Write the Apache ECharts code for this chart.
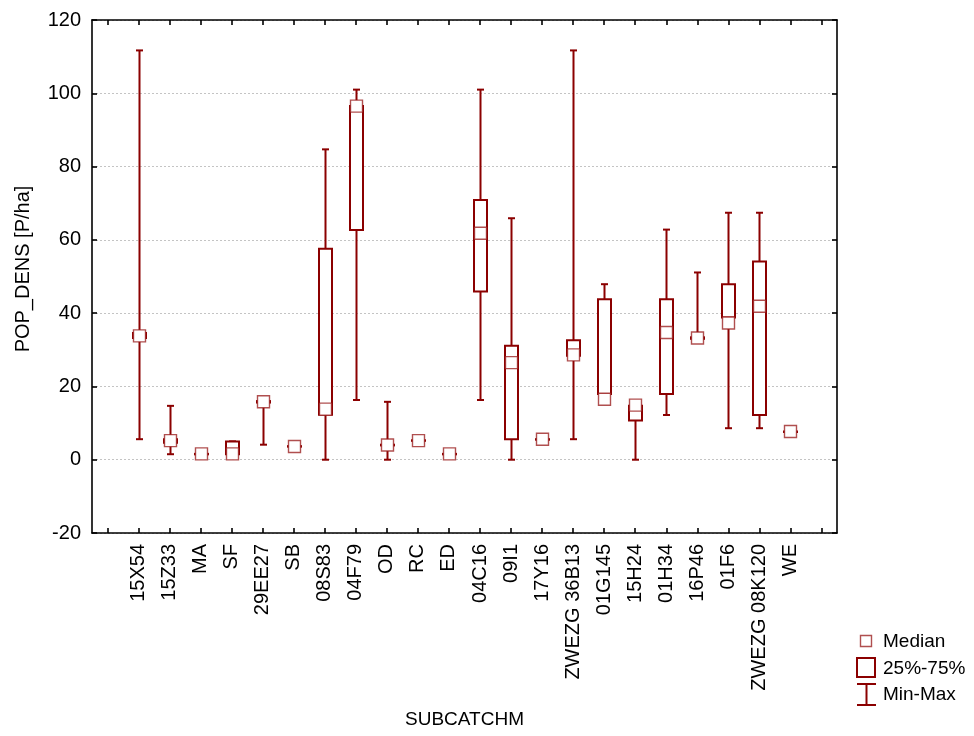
<!DOCTYPE html>
<html>
<head>
<meta charset="utf-8">
<title>POP_DENS by SUBCATCHM</title>
<script src="https://cdn.jsdelivr.net/npm/echarts@6/dist/echarts.min.js"></script>
<style>
  html, body { margin: 0; padding: 0; background: #ffffff; }
  #chart { width: 974px; height: 736px; }
</style>
</head>
<body>
<div id="chart"></div>
<script>
// Subcatchment names along the category axis
const subcatchments = ['15X54', '15Z33', 'MA', 'SF', '29EE27', 'SB', '08S83', '04F79', 'OD', 'RC', 'ED',
  '04C16', '09I1', '17Y16', 'ZWEZG 36B13', '01G145', '15H24', '01H34', '16P46', '01F6', 'ZWEZG 08K120', 'WE'];

// Population density summaries [P/ha]
const minValues    = [5.6, 1.5, 1.6, 1.5, 4.1, 3.6, 0.0, 16.3, 0.0, 5.2, 1.6, 16.3, 0.0, 5.6, 5.6, 16.5, 0.0, 12.2, 32.8, 8.6, 8.6, 7.7];
const q1Values     = [33.2, 4.6, 1.6, 1.5, 15.6, 3.6, 12.3, 62.7, 3.9, 5.2, 1.6, 45.9, 5.6, 5.6, 28.4, 17.9, 10.7, 17.9, 33.0, 38.8, 12.2, 7.7];
const medianValues = [33.8, 5.2, 1.6, 1.6, 15.8, 3.6, 13.8, 96.5, 4.0, 5.2, 1.6, 61.8, 26.5, 5.6, 28.6, 16.5, 14.9, 34.7, 33.2, 37.3, 41.9, 7.7];
const q3Values     = [34.6, 5.6, 1.6, 5.0, 16.0, 3.7, 57.6, 96.5, 4.1, 5.3, 1.6, 70.9, 31.1, 5.6, 32.6, 43.8, 14.7, 43.8, 33.4, 47.9, 54.1, 7.7];
const maxValues    = [111.7, 14.7, 1.6, 5.0, 16.0, 3.7, 84.7, 101.0, 15.8, 5.3, 1.6, 101.0, 65.9, 5.6, 111.7, 47.9, 14.9, 62.8, 51.1, 67.4, 67.4, 7.7];

// Value axis ticks
const yTicks = [-20, 0, 20, 40, 60, 80, 100, 120];

const FONT = '"Liberation Sans", Arial, sans-serif';
const DARK_RED = '#8b0000';
const MEDIAN_RED = 'rgba(150,20,20,0.75)';

// Empty slot at each end of the category axis
const axisCategories = [''].concat(subcatchments, ['']);

const boxData = subcatchments.map((name, i) => [
  i + 1, minValues[i], q1Values[i], medianValues[i], q3Values[i], maxValues[i]
]);

function renderBox(params, api) {
  const idx = api.value(0);
  const x = Math.round(api.coord([idx, 0])[0]) + 0.5;
  const yOf = v => api.coord([idx, v])[1];
  const yMin = yOf(api.value(1));
  const yQ1 = yOf(api.value(2));
  const yMed = yOf(api.value(3));
  const yQ3 = yOf(api.value(4));
  const yMax = yOf(api.value(5));
  const boxW = 13, capW = 7, sq = 12;
  const lineStyle = { stroke: DARK_RED, lineWidth: 2, fill: null };
  const children = [];

  // whiskers
  if (yMin - yQ1 > 0.5) {
    children.push({ type: 'line', shape: { x1: x, y1: yQ1, x2: x, y2: yMin }, style: lineStyle });
  }
  if (yQ3 - yMax > 0.5) {
    children.push({ type: 'line', shape: { x1: x, y1: yMax, x2: x, y2: yQ3 }, style: lineStyle });
  }
  // caps
  children.push({ type: 'line', shape: { x1: x - capW / 2, y1: yMin, x2: x + capW / 2, y2: yMin }, style: lineStyle });
  children.push({ type: 'line', shape: { x1: x - capW / 2, y1: yMax, x2: x + capW / 2, y2: yMax }, style: lineStyle });
  // 25%-75% box
  children.push({
    type: 'rect',
    shape: { x: x - boxW / 2, y: yQ3, width: boxW, height: Math.max(yQ1 - yQ3, 0.5) },
    style: { stroke: DARK_RED, lineWidth: 2, fill: '#ffffff' }
  });
  // median marker
  children.push({
    type: 'rect',
    shape: { x: x - sq / 2, y: yMed - sq / 2, width: sq, height: sq },
    style: { stroke: MEDIAN_RED, lineWidth: 1.4, fill: '#ffffff' }
  });

  return { type: 'group', children: children };
}

const chart = echarts.init(document.getElementById('chart'), null, { renderer: 'canvas' });

const frameLine = { show: true, onZero: false, lineStyle: { color: '#000', width: 1.6 } };
const innerTick = { show: true, inside: true, length: 5, lineStyle: { color: '#000', width: 1.6 } };

const legendFont = '19px ' + FONT;

chart.setOption({
  backgroundColor: '#ffffff',
  animation: false,
  textStyle: { fontFamily: FONT },
  grid: { left: 92, top: 20, right: 137, bottom: 203 },
  xAxis: [
    {
      type: 'category',
      data: axisCategories,
      position: 'bottom',
      boundaryGap: true,
      axisLine: frameLine,
      axisTick: Object.assign({ alignWithLabel: true, interval: 0 }, innerTick),
      axisLabel: { interval: 0, rotate: 90, margin: 11, color: '#000', fontSize: 20, fontFamily: FONT },
      splitLine: { show: false },
      name: 'SUBCATCHM',
      nameLocation: 'middle',
      nameGap: 177,
      nameTextStyle: { color: '#000', fontSize: 19, fontFamily: FONT }
    },
    {
      type: 'category',
      data: axisCategories,
      position: 'top',
      boundaryGap: true,
      axisLine: frameLine,
      axisTick: Object.assign({ alignWithLabel: true, interval: 0 }, innerTick),
      axisLabel: { show: false },
      splitLine: { show: false }
    }
  ],
  yAxis: [
    {
      type: 'value',
      position: 'left',
      min: yTicks[0],
      max: yTicks[yTicks.length - 1],
      interval: 20,
      axisLine: frameLine,
      axisTick: innerTick,
      axisLabel: { margin: 11, color: '#000', fontSize: 20, fontFamily: FONT },
      splitLine: { show: true, lineStyle: { color: '#c4c4c4', width: 1, type: [2, 2] } }
    },
    {
      type: 'value',
      position: 'right',
      min: yTicks[0],
      max: yTicks[yTicks.length - 1],
      interval: 20,
      axisLine: frameLine,
      axisTick: innerTick,
      axisLabel: { show: false },
      splitLine: { show: false }
    }
  ],
  series: [
    {
      type: 'custom',
      name: 'POP_DENS',
      xAxisIndex: 0,
      yAxisIndex: 0,
      renderItem: renderBox,
      encode: { x: 0, y: [1, 2, 3, 4, 5] },
      data: boxData,
      clip: false,
      z: 5
    }
  ],
  graphic: [
    {
      type: 'text',
      x: 23,
      y: 269,
      rotation: Math.PI / 2,
      style: {
        text: 'POP_DENS [P/ha]',
        fill: '#000',
        font: '20px ' + FONT,
        textAlign: 'center',
        textVerticalAlign: 'middle'
      }
    },
    // legend: median marker, quartile box, min-max whisker
    { type: 'rect', shape: { x: 860.5, y: 635.5, width: 11, height: 11 },
      style: { stroke: MEDIAN_RED, lineWidth: 1.4, fill: '#fff' } },
    { type: 'text', x: 883, y: 642,
      style: { text: 'Median', fill: '#000', font: legendFont, textVerticalAlign: 'middle' } },
    { type: 'rect', shape: { x: 857, y: 658, width: 18, height: 19 },
      style: { stroke: DARK_RED, lineWidth: 2, fill: '#fff' } },
    { type: 'text', x: 883, y: 669,
      style: { text: '25%-75%', fill: '#000', font: legendFont, textVerticalAlign: 'middle' } },
    { type: 'line', shape: { x1: 857, y1: 684, x2: 876, y2: 684 }, style: { stroke: DARK_RED, lineWidth: 2 } },
    { type: 'line', shape: { x1: 866.5, y1: 684, x2: 866.5, y2: 705 }, style: { stroke: DARK_RED, lineWidth: 2 } },
    { type: 'line', shape: { x1: 857, y1: 705, x2: 876, y2: 705 }, style: { stroke: DARK_RED, lineWidth: 2 } },
    { type: 'text', x: 883, y: 695,
      style: { text: 'Min-Max', fill: '#000', font: legendFont, textVerticalAlign: 'middle' } }
  ]
});
</script>
</body>
</html>
